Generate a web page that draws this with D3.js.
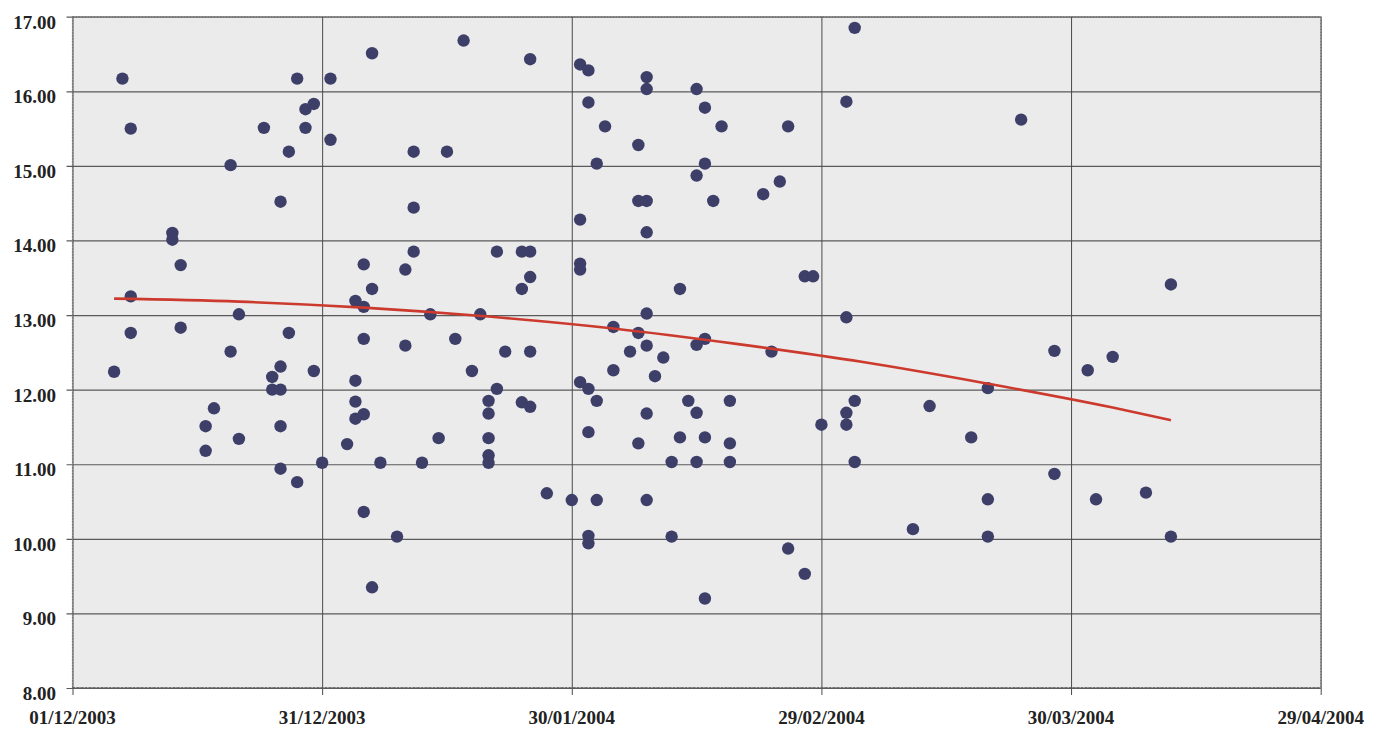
<!DOCTYPE html>
<html>
<head>
<meta charset="utf-8">
<script src="https://cdn.jsdelivr.net/npm/d3@7"></script>
<style>
  html, body { margin: 0; padding: 0; background: #ffffff; }
  svg { display: block; }
  .lbl { font-family: "Liberation Serif", "Times New Roman", serif; font-weight: bold; fill: #222; }
</style>
</head>
<body>
<svg id="chart" width="1380" height="729"></svg>
<script>
// ---------- DATA ----------
const pointDates = [
  "2003-12-06","2003-12-07","2003-12-08","2003-12-08","2003-12-08",
  "2003-12-13","2003-12-13","2003-12-14","2003-12-14",
  "2003-12-17","2003-12-17","2003-12-18",
  "2003-12-20","2003-12-20","2003-12-21","2003-12-21",
  "2003-12-24","2003-12-25","2003-12-25",
  "2003-12-26","2003-12-26","2003-12-26","2003-12-26","2003-12-26",
  "2003-12-27","2003-12-27","2003-12-28","2003-12-28",
  "2003-12-29","2003-12-29","2003-12-30","2003-12-30","2003-12-31",
  "2004-01-01","2004-01-01","2004-01-03",
  "2004-01-04","2004-01-04","2004-01-04","2004-01-04",
  "2004-01-05","2004-01-05","2004-01-05","2004-01-05","2004-01-05",
  "2004-01-06","2004-01-06","2004-01-06","2004-01-07","2004-01-09",
  "2004-01-10","2004-01-10","2004-01-11","2004-01-11","2004-01-11",
  "2004-01-12","2004-01-13","2004-01-14","2004-01-15","2004-01-16",
  "2004-01-17","2004-01-18","2004-01-19",
  "2004-01-20","2004-01-20","2004-01-20","2004-01-20","2004-01-20",
  "2004-01-21","2004-01-21","2004-01-22",
  "2004-01-24","2004-01-24","2004-01-24",
  "2004-01-25","2004-01-25","2004-01-25","2004-01-25","2004-01-25",
  "2004-01-27","2004-01-30",
  "2004-01-31","2004-01-31","2004-01-31","2004-01-31","2004-01-31",
  "2004-02-01","2004-02-01","2004-02-01","2004-02-01","2004-02-01","2004-02-01",
  "2004-02-02","2004-02-02","2004-02-02","2004-02-03",
  "2004-02-04","2004-02-04","2004-02-06",
  "2004-02-07","2004-02-07","2004-02-07","2004-02-07",
  "2004-02-08","2004-02-08","2004-02-08","2004-02-08","2004-02-08","2004-02-08","2004-02-08","2004-02-08",
  "2004-02-09","2004-02-10","2004-02-11","2004-02-11",
  "2004-02-12","2004-02-12","2004-02-13",
  "2004-02-14","2004-02-14","2004-02-14","2004-02-14","2004-02-14",
  "2004-02-15","2004-02-15","2004-02-15","2004-02-15","2004-02-15",
  "2004-02-16","2004-02-17","2004-02-18","2004-02-18","2004-02-18",
  "2004-02-22","2004-02-23","2004-02-24","2004-02-25","2004-02-25",
  "2004-02-27","2004-02-27","2004-02-28","2004-02-29",
  "2004-03-03","2004-03-03","2004-03-03","2004-03-03",
  "2004-03-04","2004-03-04","2004-03-04",
  "2004-03-11","2004-03-13","2004-03-18",
  "2004-03-20","2004-03-20","2004-03-20","2004-03-24",
  "2004-03-28","2004-03-28","2004-04-01","2004-04-02","2004-04-04",
  "2004-04-08","2004-04-11","2004-04-11"
];
const pointValues = [
  12.24,16.17,15.50,13.25,12.76,
  14.10,14.01,13.67,12.83,
  11.51,11.18,11.75,
  15.01,12.51,13.01,11.34,
  15.51,12.17,12.00,
  14.52,12.31,12.00,11.51,10.94,
  15.19,12.76,16.17,10.76,
  15.76,15.51,15.83,12.25,11.02,
  16.17,15.35,11.27,
  13.19,12.12,11.84,11.61,
  13.68,13.11,12.68,11.67,10.36,
  16.51,13.35,9.35,11.02,10.03,
  13.61,12.59,15.19,14.44,13.85,
  11.02,13.01,11.35,15.19,12.68,
  16.68,12.25,13.01,
  11.85,11.68,11.35,11.12,11.02,
  13.85,12.01,12.51,
  13.85,13.35,11.83,
  16.43,13.85,13.51,12.51,11.77,
  10.61,10.52,
  16.36,14.28,13.69,13.61,12.10,
  16.28,15.85,12.01,11.43,10.04,9.94,
  15.03,11.85,10.52,15.53,
  12.84,12.26,12.51,
  15.28,14.53,12.76,11.28,
  16.19,16.03,14.53,14.11,13.02,12.59,11.68,10.52,
  12.18,12.43,11.03,10.03,
  13.35,11.36,11.85,
  16.03,14.87,12.60,11.69,11.03,
  15.78,15.03,12.68,11.36,9.20,
  14.53,15.53,11.85,11.28,11.03,
  14.62,12.51,14.79,15.53,9.87,
  13.52,9.53,13.52,11.53,
  15.86,12.97,11.69,11.53,
  16.85,11.85,11.03,
  10.13,11.78,11.36,
  12.02,10.53,10.03,15.62,
  12.52,10.87,12.26,10.53,12.44,
  10.62,13.41,10.03
];
// trend line
const trendDates  = ["2003-12-06","2003-12-21","2004-01-05","2004-01-20","2004-02-04","2004-02-19","2004-03-05","2004-03-20","2004-04-04","2004-04-11"];
const trendValues = [13.22, 13.18, 13.10, 12.98, 12.82, 12.61, 12.37, 12.08, 11.76, 11.59];

const xTickDates  = ["2003-12-01","2003-12-31","2004-01-30","2004-02-29","2004-03-30","2004-04-29"];
const xTickLabels = ["01/12/2003","31/12/2003","30/01/2004","29/02/2004","30/03/2004","29/04/2004"];
const yTickValues = [8,9,10,11,12,13,14,15,16,17];
const yTickLabels = ["8.00","9.00","10.00","11.00","12.00","13.00","14.00","15.00","16.00","17.00"];

// ---------- DRAW ----------
const parse = d3.utcParse("%Y-%m-%d");
const svg = d3.select("#chart");
const L = 72.5, R = 1320.7, T = 16.7, B = 688;

const x = d3.scaleUtc().domain([parse(xTickDates[0]), parse(xTickDates[xTickDates.length-1])]).range([L, R]);
const y = d3.scaleLinear().domain([8, 17]).range([B, T]);

// plot background
svg.append("rect").attr("x", L).attr("y", T).attr("width", R - L).attr("height", B - T)
  .attr("fill", "#ebebeb");

// horizontal grid (extending left as tick marks)
const gy = svg.append("g").attr("transform", `translate(${R},0)`)
  .call(d3.axisLeft(y).tickValues(yTickValues).tickSize(R - L + 6).tickFormat("").tickSizeOuter(0));
gy.select(".domain").remove();
gy.selectAll(".tick line").attr("stroke", "#5a5a5a").attr("stroke-width", 1.2);

// vertical grid (extending below as tick marks)
const gx = svg.append("g").attr("transform", `translate(0,${T})`)
  .call(d3.axisBottom(x).tickValues(xTickDates.map(parse)).tickSize(B - T + 7).tickFormat("").tickSizeOuter(0));
gx.select(".domain").remove();
gx.selectAll(".tick line").attr("stroke", "#4a4a4a").attr("stroke-width", 1);

// border
svg.append("rect").attr("x", L).attr("y", T).attr("width", R - L).attr("height", B - T)
  .attr("fill", "none").attr("stroke", "#777").attr("stroke-width", 1.2).attr("stroke-dasharray", "2,1");
svg.append("line").attr("x1", L).attr("x2", R).attr("y1", B).attr("y2", B)
  .attr("stroke", "#555").attr("stroke-width", 1.5).attr("stroke-dasharray", "3,1");

// y labels
svg.append("g").selectAll("text").data(yTickValues).join("text")
  .attr("class", "lbl").attr("x", 56).attr("y", d => y(d) + 12)
  .attr("text-anchor", "end").attr("font-size", 19)
  .text((d, i) => yTickLabels[i]);

// x labels
svg.append("g").selectAll("text").data(xTickDates).join("text")
  .attr("class", "lbl").attr("x", d => x(parse(d))).attr("y", 724)
  .attr("text-anchor", "middle").attr("font-size", 19)
  .text((d, i) => xTickLabels[i]);

// points
const pts = pointDates.map((d, i) => ({ d: parse(d), v: pointValues[i] }));
svg.append("g").selectAll("circle").data(pts).join("circle")
  .attr("cx", p => x(p.d)).attr("cy", p => y(p.v)).attr("r", 6.2)
  .attr("fill", "#3d3f69");

// trend line
const tr = trendDates.map((d, i) => ({ d: parse(d), v: trendValues[i] }));
svg.append("path").datum(tr)
  .attr("fill", "none").attr("stroke", "#cc3a2e").attr("stroke-width", 2.6)
  .attr("d", d3.line().x(p => x(p.d)).y(p => y(p.v)).curve(d3.curveMonotoneX));
</script>
</body>
</html>
